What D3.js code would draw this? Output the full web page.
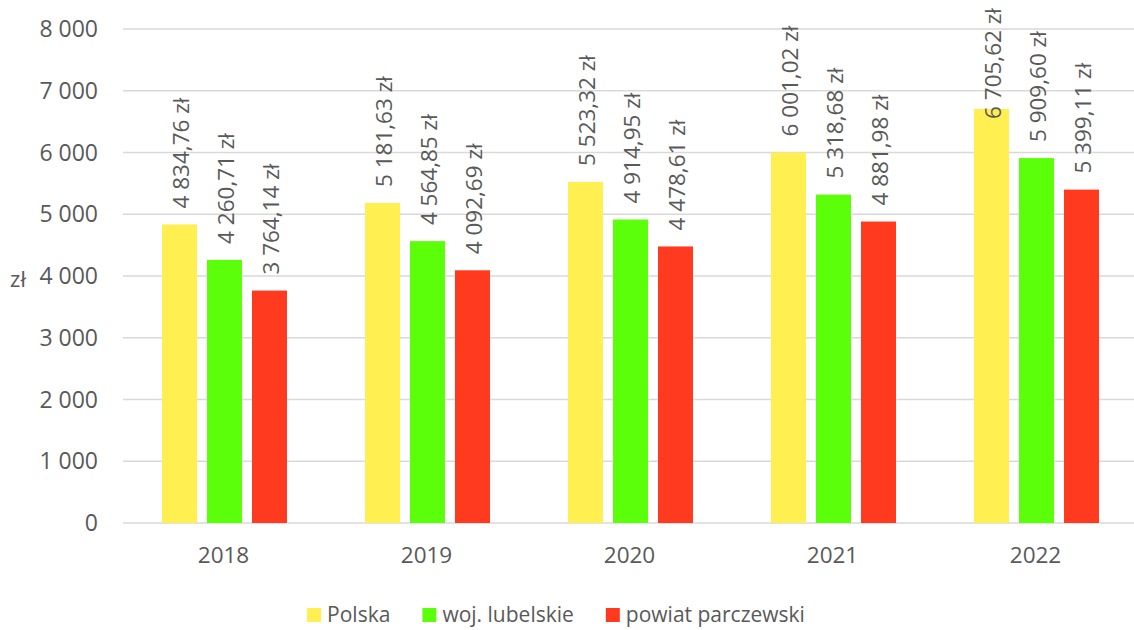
<!DOCTYPE html>
<html>
<head>
<meta charset="utf-8">
<script src="https://cdn.jsdelivr.net/npm/d3@7"></script>
<style>
  body { margin: 0; background: #fff; }
  svg text { font-family: "Open Sans", "Noto Sans", sans-serif; fill: #595959; }
</style>
</head>
<body>
<svg id="chart" width="1134" height="630"></svg>
<script>
// Data
const years = ["2018", "2019", "2020", "2021", "2022"];
const seriesNames = ["Polska", "woj. lubelskie", "powiat parczewski"];
const polska = [4834.76, 5181.63, 5523.32, 6001.02, 6705.62];
const lubelskie = [4260.71, 4564.85, 4914.95, 5318.68, 5909.60];
const parczewski = [3764.14, 4092.69, 4478.61, 4881.98, 5399.11];
const yTicks = [0, 1000, 2000, 3000, 4000, 5000, 6000, 7000, 8000];
const colors = ["#FFEF50", "#5CFF0A", "#FF3A1F"];

const series = [polska, lubelskie, parczewski];

const svg = d3.select("#chart");
const plotLeft = 123, plotRight = 1138, plotTop = 29, plotBottom = 523;

const x = d3.scaleBand().domain(years).range([plotLeft, plotRight]).paddingInner(0).paddingOuter(0);
const xInner = d3.scaleBand().domain(seriesNames).range([0, 125]).paddingInner(10 / 45);
const y = d3.scaleLinear().domain([0, 8000]).range([plotBottom, plotTop]);

const fmtNum = v => {
  const parts = v.toFixed(2).split(".");
  return parts[0].replace(/\B(?=(\d{3})+(?!\d))/g, " ") + "," + parts[1];
};
const fmtTick = v => String(v).replace(/\B(?=(\d{3})+(?!\d))/g, " ");

// gridlines
svg.append("g")
  .selectAll("line")
  .data(yTicks)
  .enter()
  .append("line")
  .attr("x1", plotLeft)
  .attr("x2", 1134)
  .attr("y1", d => y(d))
  .attr("y2", d => y(d))
  .attr("stroke", "#d9d9d9")
  .attr("stroke-width", 1.5);

// y tick labels
svg.append("g")
  .selectAll("text")
  .data(yTicks)
  .enter()
  .append("text")
  .attr("x", 98)
  .attr("y", d => y(d))
  .attr("dy", "0.35em")
  .attr("text-anchor", "end")
  .style("font-size", "23px")
  .text(fmtTick);

// y axis unit
svg.append("text")
  .attr("x", 18)
  .attr("y", y(4000) + 3)
  .attr("dy", "0.35em")
  .attr("text-anchor", "middle")
  .style("font-size", "22px")
  .text("zł");

// x labels
svg.append("g")
  .selectAll("text")
  .data(years)
  .enter()
  .append("text")
  .attr("x", d => x(d) + x.bandwidth() / 2 - 1)
  .attr("y", 555)
  .attr("dy", "0.35em")
  .attr("text-anchor", "middle")
  .style("font-size", "22.5px")
  .text(d => d);

// bars + rotated value labels
const offset = (x.bandwidth() - 125) / 2;
const groups = svg.append("g")
  .selectAll("g")
  .data(series)
  .enter()
  .append("g");

groups.each(function (vals, si) {
  const g = d3.select(this);
  const bx = i => x(years[i]) + offset + xInner(seriesNames[si]);
  g.selectAll("rect")
    .data(vals)
    .enter()
    .append("rect")
    .attr("x", (d, i) => bx(i))
    .attr("y", d => y(d))
    .attr("width", xInner.bandwidth())
    .attr("height", d => plotBottom - y(d))
    .attr("fill", colors[si]);

  g.selectAll("text")
    .data(vals)
    .enter()
    .append("text")
    .style("font-size", "22.5px")
    .text(d => fmtNum(d) + " zł")
    .each(function (d, i) {
      const len = this.getComputedTextLength();
      const cx = bx(i) + xInner.bandwidth() / 2 + 2;
      // keep label inside the chart area, like Excel does
      const start = Math.max(y(d) - 16, 8 + len);
      d3.select(this)
        .attr("transform", `translate(${cx},${start}) rotate(-90)`)
        .attr("dy", "0.35em");
    });
});

// legend
const legend = svg.append("g");
let lx = 0;
seriesNames.forEach((name, i) => {
  const item = legend.append("g").attr("transform", `translate(${lx},0)`);
  item.append("rect").attr("x", 0).attr("y", -7).attr("width", 14).attr("height", 14).attr("fill", colors[i]);
  const t = item.append("text").attr("x", 20).attr("y", 0).attr("dy", "0.35em").style("font-size", "21px").text(name);
  lx += 20 + t.node().getComputedTextLength() + 32;
});
const legendWidth = lx - 32;
legend.attr("transform", `translate(${556 - legendWidth / 2},615)`);
</script>
</body>
</html>
